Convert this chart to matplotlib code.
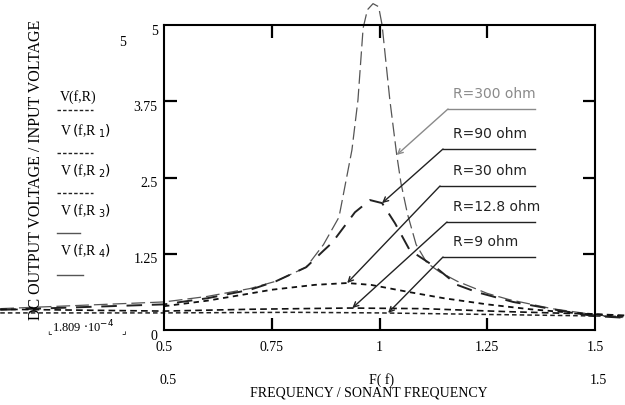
import matplotlib.pyplot as plt
import numpy as np

plt.rcParams["font.family"] = "serif"
plt.rcParams["font.serif"] = ["Liberation Serif", "DejaVu Serif"]

# ---- curves (f = F/F0, v = Vout/Vin) ----
f_300 = [0.12, 0.5, 0.6, 0.7, 0.76, 0.83, 0.87, 0.906, 0.936, 0.950, 0.962, 0.972,
         0.985, 0.998, 1.006, 1.024, 1.04, 1.05, 1.065, 1.085, 1.11, 1.14, 1.18,
         1.25, 1.3, 1.4, 1.5, 1.57]
v_300 = [0.35, 0.46, 0.55, 0.68, 0.80, 1.03, 1.40, 1.85, 2.95, 3.77, 4.95, 5.25,
         5.35, 5.3, 5.0, 3.77, 2.87, 2.4, 1.9, 1.4, 1.1, 0.95, 0.8,
         0.6, 0.5, 0.35, 0.25, 0.2]

f_90 = [0.12, 0.5, 0.6, 0.7, 0.76, 0.83, 0.87, 0.89, 0.943, 0.978, 1.006, 1.036,
        1.07, 1.13, 1.18, 1.226, 1.31, 1.41, 1.495, 1.57]
v_90 = [0.33, 0.42, 0.52, 0.66, 0.80, 1.03, 1.30, 1.43, 1.93, 2.13, 2.08, 1.75,
        1.31, 1.03, 0.74, 0.62, 0.46, 0.33, 0.23, 0.2]

f_30 = [0.5, 0.6, 0.676, 0.75, 0.85, 0.925, 0.98, 1.07, 1.15, 1.25, 1.35, 1.45, 1.5, 1.57]
v_30 = [0.39, 0.48, 0.57, 0.66, 0.74, 0.77, 0.74, 0.62, 0.52, 0.42, 0.34, 0.28, 0.26, 0.22]

f_12 = [0.12, 0.5, 0.7, 0.93, 1.1, 1.3, 1.5, 1.57]
v_12 = [0.34, 0.31, 0.34, 0.36, 0.35, 0.30, 0.26, 0.24]

f_9 = [0.12, 0.5, 0.8, 1.0, 1.2, 1.4, 1.5, 1.57]
v_9 = [0.28, 0.28, 0.29, 0.28, 0.26, 0.24, 0.23, 0.22]

# label text, arrow tip (f, v)
labels = ["R=300 ohm", "R=90 ohm", "R=30 ohm", "R=12.8 ohm", "R=9 ohm"]
tips_f = [1.04, 1.006, 0.925, 0.937, 1.02]
tips_v = [2.87, 2.08, 0.77, 0.36, 0.28]

xticks = [0.5, 0.75, 1, 1.25, 1.5]
yticks = [0, 1.25, 2.5, 3.75, 5]
ytick_txt = ["0", "1.25", "2.5", "3.75", "5"]

W, H = 625, 405
fig = plt.figure(figsize=(W / 100, H / 100), dpi=100)


def px(x, y):
    return x / W, 1 - y / H


ax = fig.add_axes([164 / W, 1 - 330 / H, 431 / W, 305 / H])
ax.set_xlim(0.5, 1.5)
ax.set_ylim(0, 5)

ax.plot(f_300, v_300, color="#555555", lw=0.9, dashes=(11, 4), clip_on=False)
ax.plot(f_90, v_90, color="#222222", lw=1.4, dashes=(8, 5), clip_on=False)
ax.plot(f_30, v_30, color="#111111", lw=1.3, dashes=(3, 2.5), clip_on=False)
ax.plot(f_12, v_12, color="#111111", lw=1.2, dashes=(4, 2.5), clip_on=False)
ax.plot(f_9, v_9, color="#222222", lw=1.1, dashes=(3, 2), clip_on=False)

for s in ax.spines.values():
    s.set_linewidth(1.5)
ax.set_xticks(xticks[1:-1])
ax.set_yticks(yticks[1:-1])
ax.set_xticklabels([])
ax.set_yticklabels([])
ax.tick_params(direction="in", length=9, width=1.6, top=True, right=True)

# tick labels (Mathcad style)
for t in xticks:
    ax.text(t, -0.28, f"{t:g}", ha="center", va="center", fontsize=10)
for t, s in zip(yticks, ytick_txt):
    ax.text(0.485, t - 0.1, s, ha="right", va="center", fontsize=10)

# callouts
for i, (lab, tf, tv) in enumerate(zip(labels, tips_f, tips_v)):
    ly = [109, 149, 186, 222, 257][i]
    lx = [448, 443, 440, 447, 443][i]
    col = "#8a8a8a" if i == 0 else "#222222"
    fig.text(*px(453, ly - 15), lab, family="DejaVu Sans", fontsize=10,
             color=col, va="center", ha="left")
    fig.lines.append(plt.Line2D([lx / W, 535 / W], [1 - ly / H] * 2,
                                transform=fig.transFigure, color=col, lw=1.0))
    xy0 = ax.transData.inverted().transform(fig.transFigure.transform(px(lx, ly)))
    ax.annotate("", xy=(tf, tv), xytext=xy0,
                arrowprops=dict(arrowstyle="->", color=col, lw=1.0,
                                shrinkA=0, shrinkB=0, mutation_scale=9),
                annotation_clip=False)

# left side: axis title and Mathcad legend
fig.text(*px(36, 170), "DC OUTPUT VOLTAGE / INPUT VOLTAGE", rotation=90,
         ha="center", va="center", fontsize=11.5)
fig.text(*px(123, 42), "5", ha="center", va="center", fontsize=10)
leg_txt = ["V(f,R)", r"V$\,($f,R$_{\ 1}$$)$", r"V$\,($f,R$_{\ 2}$$)$",
           r"V$\,($f,R$_{\ 3}$$)$", r"V$\,($f,R$_{\ 4}$$)$"]
leg_y = [97, 131, 171, 211, 251]
for s, y in zip(leg_txt, leg_y):
    fig.text(*px(60, y), s, ha="left", va="center", fontsize=10)
line_y = [110, 153, 193, 233, 275]
line_x1 = [93, 93, 93, 80, 83]
for i, (y, x1) in enumerate(zip(line_y, line_x1)):
    ls = "--" if i < 3 else "-"
    c = "#222222" if i < 3 else "#555555"
    fig.lines.append(plt.Line2D([57 / W, x1 / W], [1 - y / H] * 2,
                                transform=fig.transFigure, color=c, lw=1.0,
                                ls=ls, dashes=(2.5, 1.5) if i < 3 else (None, None)))
fig.text(*px(52, 327), r"1.809 $\cdot$10$^{-4}$", ha="left", va="center", fontsize=9)
fig.text(*px(49, 331), "⌞", family="DejaVu Sans", ha="center", va="center", fontsize=7)
fig.text(*px(124, 331), "⌟", family="DejaVu Sans", ha="center", va="center", fontsize=7)

# bottom labels
fig.text(*px(168, 380), "0.5", ha="center", va="center", fontsize=10)
fig.text(*px(382, 380), "F( f)", ha="center", va="center", fontsize=10)
fig.text(*px(598, 380), "1.5", ha="center", va="center", fontsize=10)
fig.text(*px(369, 393), "FREQUENCY / SONANT FREQUENCY", ha="center", va="center",
         fontsize=10)

fig.savefig("out.png", dpi=100)
